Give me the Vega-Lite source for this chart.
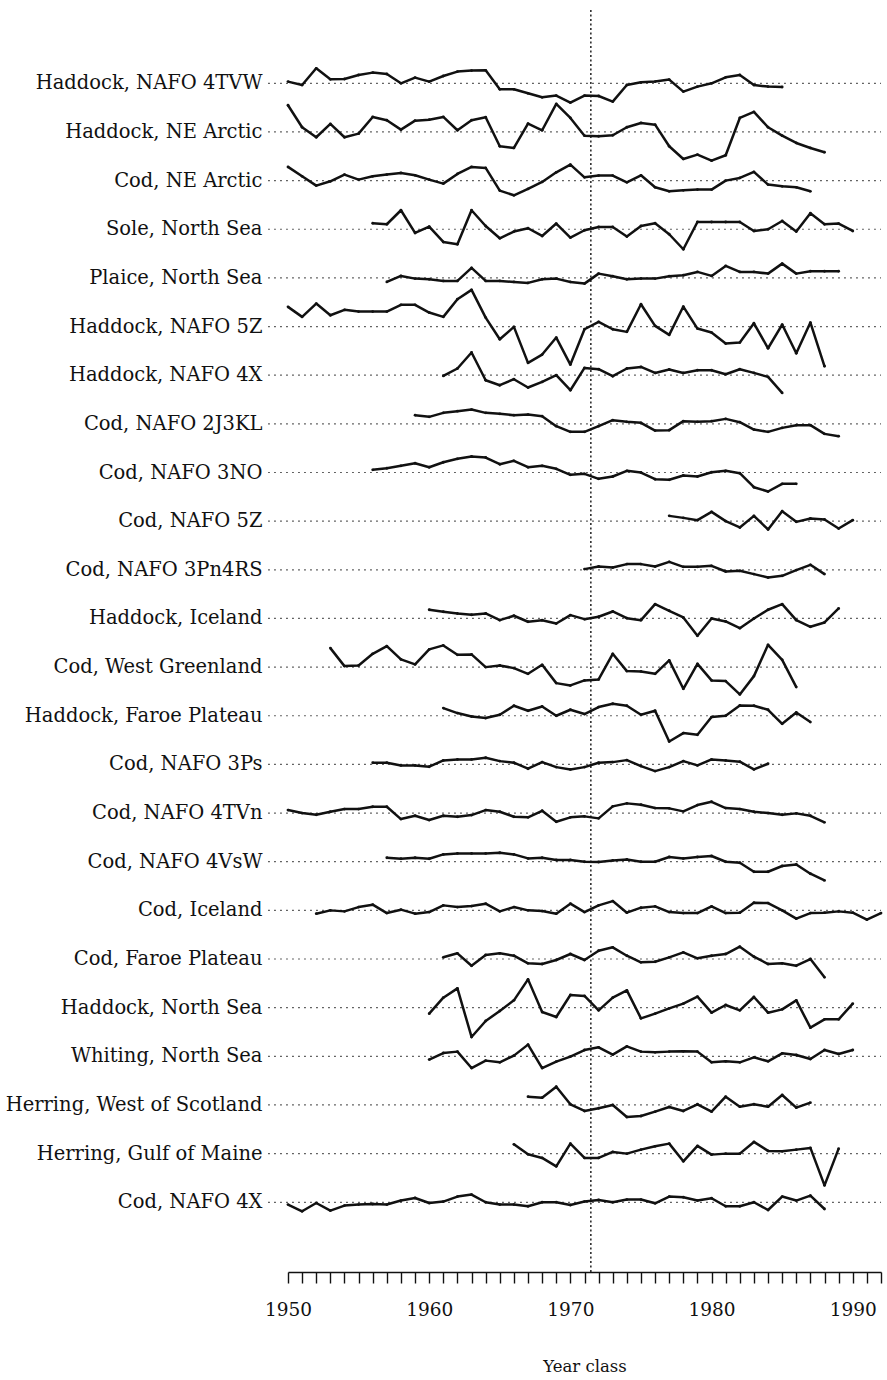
{
"$schema": "https://vega.github.io/schema/vega-lite/v6.json",
"width": 593,
"height": 1262,
"autosize": {"type": "none"},
"padding": {"left": 288, "top": 10, "right": 6, "bottom": 108},
"background": "white",
"config": {"view": {"stroke": null}, "font": "DejaVu Serif"},
"datasets": {
"names": [
{"s":"Haddock, NAFO 4TVW"},{"s":"Haddock, NE Arctic"},{"s":"Cod, NE Arctic"},{"s":"Sole, North Sea"},{"s":"Plaice, North Sea"},{"s":"Haddock, NAFO 5Z"},{"s":"Haddock, NAFO 4X"},{"s":"Cod, NAFO 2J3KL"},{"s":"Cod, NAFO 3NO"},{"s":"Cod, NAFO 5Z"},{"s":"Cod, NAFO 3Pn4RS"},{"s":"Haddock, Iceland"},{"s":"Cod, West Greenland"},{"s":"Haddock, Faroe Plateau"},{"s":"Cod, NAFO 3Ps"},{"s":"Cod, NAFO 4TVn"},{"s":"Cod, NAFO 4VsW"},{"s":"Cod, Iceland"},{"s":"Cod, Faroe Plateau"},{"s":"Haddock, North Sea"},{"s":"Whiting, North Sea"},{"s":"Herring, West of Scotland"},{"s":"Herring, Gulf of Maine"},{"s":"Cod, NAFO 4X"}
],
"series": [
{"s":"Haddock, NAFO 4TVW","y":1950,"v":0.17},{"s":"Haddock, NAFO 4TVW","y":1951,"v":-0.17},{"s":"Haddock, NAFO 4TVW","y":1952,"v":1.5},{"s":"Haddock, NAFO 4TVW","y":1953,"v":0.4},{"s":"Haddock, NAFO 4TVW","y":1954,"v":0.43},{"s":"Haddock, NAFO 4TVW","y":1955,"v":0.83},{"s":"Haddock, NAFO 4TVW","y":1956,"v":1.07},{"s":"Haddock, NAFO 4TVW","y":1957,"v":0.93},{"s":"Haddock, NAFO 4TVW","y":1958,"v":0},{"s":"Haddock, NAFO 4TVW","y":1959,"v":0.57},
{"s":"Haddock, NAFO 4TVW","y":1960,"v":0.17},{"s":"Haddock, NAFO 4TVW","y":1961,"v":0.73},{"s":"Haddock, NAFO 4TVW","y":1962,"v":1.17},{"s":"Haddock, NAFO 4TVW","y":1963,"v":1.27},{"s":"Haddock, NAFO 4TVW","y":1964,"v":1.3},{"s":"Haddock, NAFO 4TVW","y":1965,"v":-0.6},{"s":"Haddock, NAFO 4TVW","y":1966,"v":-0.6},{"s":"Haddock, NAFO 4TVW","y":1967,"v":-1.0},{"s":"Haddock, NAFO 4TVW","y":1968,"v":-1.4},{"s":"Haddock, NAFO 4TVW","y":1969,"v":-1.23},
{"s":"Haddock, NAFO 4TVW","y":1970,"v":-1.93},{"s":"Haddock, NAFO 4TVW","y":1971,"v":-1.23},{"s":"Haddock, NAFO 4TVW","y":1972,"v":-1.27},{"s":"Haddock, NAFO 4TVW","y":1973,"v":-1.83},{"s":"Haddock, NAFO 4TVW","y":1974,"v":-0.17},{"s":"Haddock, NAFO 4TVW","y":1975,"v":0.1},{"s":"Haddock, NAFO 4TVW","y":1976,"v":0.17},{"s":"Haddock, NAFO 4TVW","y":1977,"v":0.37},{"s":"Haddock, NAFO 4TVW","y":1978,"v":-0.83},{"s":"Haddock, NAFO 4TVW","y":1979,"v":-0.33},
{"s":"Haddock, NAFO 4TVW","y":1980,"v":0},{"s":"Haddock, NAFO 4TVW","y":1981,"v":0.6},{"s":"Haddock, NAFO 4TVW","y":1982,"v":0.83},{"s":"Haddock, NAFO 4TVW","y":1983,"v":-0.17},{"s":"Haddock, NAFO 4TVW","y":1984,"v":-0.33},{"s":"Haddock, NAFO 4TVW","y":1985,"v":-0.37},

{"s":"Haddock, NE Arctic","y":1950,"v":2.67},{"s":"Haddock, NE Arctic","y":1951,"v":0.47},{"s":"Haddock, NE Arctic","y":1952,"v":-0.53},{"s":"Haddock, NE Arctic","y":1953,"v":0.8},{"s":"Haddock, NE Arctic","y":1954,"v":-0.53},{"s":"Haddock, NE Arctic","y":1955,"v":-0.17},{"s":"Haddock, NE Arctic","y":1956,"v":1.5},{"s":"Haddock, NE Arctic","y":1957,"v":1.17},{"s":"Haddock, NE Arctic","y":1958,"v":0.23},{"s":"Haddock, NE Arctic","y":1959,"v":1.13},
{"s":"Haddock, NE Arctic","y":1960,"v":1.23},{"s":"Haddock, NE Arctic","y":1961,"v":1.5},{"s":"Haddock, NE Arctic","y":1962,"v":0.17},{"s":"Haddock, NE Arctic","y":1963,"v":1.17},{"s":"Haddock, NE Arctic","y":1964,"v":1.47},{"s":"Haddock, NE Arctic","y":1965,"v":-1.43},{"s":"Haddock, NE Arctic","y":1966,"v":-1.6},{"s":"Haddock, NE Arctic","y":1967,"v":0.83},{"s":"Haddock, NE Arctic","y":1968,"v":0.17},{"s":"Haddock, NE Arctic","y":1969,"v":2.8},
{"s":"Haddock, NE Arctic","y":1970,"v":1.4},{"s":"Haddock, NE Arctic","y":1971,"v":-0.37},{"s":"Haddock, NE Arctic","y":1972,"v":-0.43},{"s":"Haddock, NE Arctic","y":1973,"v":-0.33},{"s":"Haddock, NE Arctic","y":1974,"v":0.47},{"s":"Haddock, NE Arctic","y":1975,"v":0.9},{"s":"Haddock, NE Arctic","y":1976,"v":0.73},{"s":"Haddock, NE Arctic","y":1977,"v":-1.43},{"s":"Haddock, NE Arctic","y":1978,"v":-2.7},{"s":"Haddock, NE Arctic","y":1979,"v":-2.27},
{"s":"Haddock, NE Arctic","y":1980,"v":-2.87},{"s":"Haddock, NE Arctic","y":1981,"v":-2.33},{"s":"Haddock, NE Arctic","y":1982,"v":1.4},{"s":"Haddock, NE Arctic","y":1983,"v":2.0},{"s":"Haddock, NE Arctic","y":1984,"v":0.47},{"s":"Haddock, NE Arctic","y":1985,"v":-0.37},{"s":"Haddock, NE Arctic","y":1986,"v":-1.1},{"s":"Haddock, NE Arctic","y":1987,"v":-1.6},{"s":"Haddock, NE Arctic","y":1988,"v":-2.03},

{"s":"Cod, NE Arctic","y":1950,"v":1.37},{"s":"Cod, NE Arctic","y":1951,"v":0.43},{"s":"Cod, NE Arctic","y":1952,"v":-0.5},{"s":"Cod, NE Arctic","y":1953,"v":-0.07},{"s":"Cod, NE Arctic","y":1954,"v":0.6},{"s":"Cod, NE Arctic","y":1955,"v":0.1},{"s":"Cod, NE Arctic","y":1956,"v":0.43},{"s":"Cod, NE Arctic","y":1957,"v":0.6},{"s":"Cod, NE Arctic","y":1958,"v":0.77},{"s":"Cod, NE Arctic","y":1959,"v":0.53},
{"s":"Cod, NE Arctic","y":1960,"v":0.1},{"s":"Cod, NE Arctic","y":1961,"v":-0.3},{"s":"Cod, NE Arctic","y":1962,"v":0.67},{"s":"Cod, NE Arctic","y":1963,"v":1.37},{"s":"Cod, NE Arctic","y":1964,"v":1.27},{"s":"Cod, NE Arctic","y":1965,"v":-1.0},{"s":"Cod, NE Arctic","y":1966,"v":-1.47},{"s":"Cod, NE Arctic","y":1967,"v":-0.83},{"s":"Cod, NE Arctic","y":1968,"v":-0.13},{"s":"Cod, NE Arctic","y":1969,"v":0.83},
{"s":"Cod, NE Arctic","y":1970,"v":1.6},{"s":"Cod, NE Arctic","y":1971,"v":0.33},{"s":"Cod, NE Arctic","y":1972,"v":0.5},{"s":"Cod, NE Arctic","y":1973,"v":0.5},{"s":"Cod, NE Arctic","y":1974,"v":-0.17},{"s":"Cod, NE Arctic","y":1975,"v":0.53},{"s":"Cod, NE Arctic","y":1976,"v":-0.67},{"s":"Cod, NE Arctic","y":1977,"v":-1.07},{"s":"Cod, NE Arctic","y":1978,"v":-0.97},{"s":"Cod, NE Arctic","y":1979,"v":-0.9},
{"s":"Cod, NE Arctic","y":1980,"v":-0.9},{"s":"Cod, NE Arctic","y":1981,"v":0},{"s":"Cod, NE Arctic","y":1982,"v":0.27},{"s":"Cod, NE Arctic","y":1983,"v":0.87},{"s":"Cod, NE Arctic","y":1984,"v":-0.4},{"s":"Cod, NE Arctic","y":1985,"v":-0.57},{"s":"Cod, NE Arctic","y":1986,"v":-0.67},{"s":"Cod, NE Arctic","y":1987,"v":-1.07},

{"s":"Sole, North Sea","y":1956,"v":0.6},{"s":"Sole, North Sea","y":1957,"v":0.5},{"s":"Sole, North Sea","y":1958,"v":1.9},{"s":"Sole, North Sea","y":1959,"v":-0.37},
{"s":"Sole, North Sea","y":1960,"v":0.27},{"s":"Sole, North Sea","y":1961,"v":-1.27},{"s":"Sole, North Sea","y":1962,"v":-1.5},{"s":"Sole, North Sea","y":1963,"v":1.9},{"s":"Sole, North Sea","y":1964,"v":0.33},{"s":"Sole, North Sea","y":1965,"v":-0.9},{"s":"Sole, North Sea","y":1966,"v":-0.23},{"s":"Sole, North Sea","y":1967,"v":0.1},{"s":"Sole, North Sea","y":1968,"v":-0.67},{"s":"Sole, North Sea","y":1969,"v":0.57},
{"s":"Sole, North Sea","y":1970,"v":-0.83},{"s":"Sole, North Sea","y":1971,"v":-0.1},{"s":"Sole, North Sea","y":1972,"v":0.23},{"s":"Sole, North Sea","y":1973,"v":0.23},{"s":"Sole, North Sea","y":1974,"v":-0.73},{"s":"Sole, North Sea","y":1975,"v":0.33},{"s":"Sole, North Sea","y":1976,"v":0.6},{"s":"Sole, North Sea","y":1977,"v":-0.5},{"s":"Sole, North Sea","y":1978,"v":-2.0},{"s":"Sole, North Sea","y":1979,"v":0.73},
{"s":"Sole, North Sea","y":1980,"v":0.73},{"s":"Sole, North Sea","y":1981,"v":0.73},{"s":"Sole, North Sea","y":1982,"v":0.73},{"s":"Sole, North Sea","y":1983,"v":-0.17},{"s":"Sole, North Sea","y":1984,"v":0},{"s":"Sole, North Sea","y":1985,"v":0.83},{"s":"Sole, North Sea","y":1986,"v":-0.23},{"s":"Sole, North Sea","y":1987,"v":1.6},{"s":"Sole, North Sea","y":1988,"v":0.5},{"s":"Sole, North Sea","y":1989,"v":0.57},{"s":"Sole, North Sea","y":1990,"v":-0.17},

{"s":"Plaice, North Sea","y":1957,"v":-0.4},{"s":"Plaice, North Sea","y":1958,"v":0.2},{"s":"Plaice, North Sea","y":1959,"v":-0.07},
{"s":"Plaice, North Sea","y":1960,"v":-0.13},{"s":"Plaice, North Sea","y":1961,"v":-0.3},{"s":"Plaice, North Sea","y":1962,"v":-0.3},{"s":"Plaice, North Sea","y":1963,"v":1.0},{"s":"Plaice, North Sea","y":1964,"v":-0.3},{"s":"Plaice, North Sea","y":1965,"v":-0.3},{"s":"Plaice, North Sea","y":1966,"v":-0.4},{"s":"Plaice, North Sea","y":1967,"v":-0.5},{"s":"Plaice, North Sea","y":1968,"v":-0.13},{"s":"Plaice, North Sea","y":1969,"v":-0.07},
{"s":"Plaice, North Sea","y":1970,"v":-0.4},{"s":"Plaice, North Sea","y":1971,"v":-0.57},{"s":"Plaice, North Sea","y":1972,"v":0.43},{"s":"Plaice, North Sea","y":1973,"v":0.17},{"s":"Plaice, North Sea","y":1974,"v":-0.13},{"s":"Plaice, North Sea","y":1975,"v":-0.07},{"s":"Plaice, North Sea","y":1976,"v":-0.07},{"s":"Plaice, North Sea","y":1977,"v":0.17},{"s":"Plaice, North Sea","y":1978,"v":0.27},{"s":"Plaice, North Sea","y":1979,"v":0.6},
{"s":"Plaice, North Sea","y":1980,"v":0.2},{"s":"Plaice, North Sea","y":1981,"v":1.2},{"s":"Plaice, North Sea","y":1982,"v":0.6},{"s":"Plaice, North Sea","y":1983,"v":0.6},{"s":"Plaice, North Sea","y":1984,"v":0.43},{"s":"Plaice, North Sea","y":1985,"v":1.43},{"s":"Plaice, North Sea","y":1986,"v":0.43},{"s":"Plaice, North Sea","y":1987,"v":0.67},{"s":"Plaice, North Sea","y":1988,"v":0.67},{"s":"Plaice, North Sea","y":1989,"v":0.67},

{"s":"Haddock, NAFO 5Z","y":1950,"v":1.97},{"s":"Haddock, NAFO 5Z","y":1951,"v":0.97},{"s":"Haddock, NAFO 5Z","y":1952,"v":2.3},{"s":"Haddock, NAFO 5Z","y":1953,"v":1.13},{"s":"Haddock, NAFO 5Z","y":1954,"v":1.67},{"s":"Haddock, NAFO 5Z","y":1955,"v":1.5},{"s":"Haddock, NAFO 5Z","y":1956,"v":1.5},{"s":"Haddock, NAFO 5Z","y":1957,"v":1.5},{"s":"Haddock, NAFO 5Z","y":1958,"v":2.17},{"s":"Haddock, NAFO 5Z","y":1959,"v":2.17},
{"s":"Haddock, NAFO 5Z","y":1960,"v":1.4},{"s":"Haddock, NAFO 5Z","y":1961,"v":0.97},{"s":"Haddock, NAFO 5Z","y":1962,"v":2.73},{"s":"Haddock, NAFO 5Z","y":1963,"v":3.67},{"s":"Haddock, NAFO 5Z","y":1964,"v":0.9},{"s":"Haddock, NAFO 5Z","y":1965,"v":-1.27},{"s":"Haddock, NAFO 5Z","y":1966,"v":-0.03},{"s":"Haddock, NAFO 5Z","y":1967,"v":-3.63},{"s":"Haddock, NAFO 5Z","y":1968,"v":-2.8},{"s":"Haddock, NAFO 5Z","y":1969,"v":-1.1},
{"s":"Haddock, NAFO 5Z","y":1970,"v":-3.8},{"s":"Haddock, NAFO 5Z","y":1971,"v":-0.27},{"s":"Haddock, NAFO 5Z","y":1972,"v":0.47},{"s":"Haddock, NAFO 5Z","y":1973,"v":-0.27},{"s":"Haddock, NAFO 5Z","y":1974,"v":-0.53},{"s":"Haddock, NAFO 5Z","y":1975,"v":2.23},{"s":"Haddock, NAFO 5Z","y":1976,"v":0.07},{"s":"Haddock, NAFO 5Z","y":1977,"v":-0.83},{"s":"Haddock, NAFO 5Z","y":1978,"v":2.0},{"s":"Haddock, NAFO 5Z","y":1979,"v":-0.2},
{"s":"Haddock, NAFO 5Z","y":1980,"v":-0.6},{"s":"Haddock, NAFO 5Z","y":1981,"v":-1.7},{"s":"Haddock, NAFO 5Z","y":1982,"v":-1.6},{"s":"Haddock, NAFO 5Z","y":1983,"v":0.33},{"s":"Haddock, NAFO 5Z","y":1984,"v":-2.17},{"s":"Haddock, NAFO 5Z","y":1985,"v":0.2},{"s":"Haddock, NAFO 5Z","y":1986,"v":-2.67},{"s":"Haddock, NAFO 5Z","y":1987,"v":0.4},{"s":"Haddock, NAFO 5Z","y":1988,"v":-3.97},

{"s":"Haddock, NAFO 4X","y":1961,"v":-0.07},{"s":"Haddock, NAFO 4X","y":1962,"v":0.67},{"s":"Haddock, NAFO 4X","y":1963,"v":2.27},{"s":"Haddock, NAFO 4X","y":1964,"v":-0.5},{"s":"Haddock, NAFO 4X","y":1965,"v":-1.0},{"s":"Haddock, NAFO 4X","y":1966,"v":-0.4},{"s":"Haddock, NAFO 4X","y":1967,"v":-1.23},{"s":"Haddock, NAFO 4X","y":1968,"v":-0.67},{"s":"Haddock, NAFO 4X","y":1969,"v":0},
{"s":"Haddock, NAFO 4X","y":1970,"v":-1.5},{"s":"Haddock, NAFO 4X","y":1971,"v":0.73},{"s":"Haddock, NAFO 4X","y":1972,"v":0.6},{"s":"Haddock, NAFO 4X","y":1973,"v":-0.1},{"s":"Haddock, NAFO 4X","y":1974,"v":0.67},{"s":"Haddock, NAFO 4X","y":1975,"v":0.83},{"s":"Haddock, NAFO 4X","y":1976,"v":0.23},{"s":"Haddock, NAFO 4X","y":1977,"v":0.57},{"s":"Haddock, NAFO 4X","y":1978,"v":0.23},{"s":"Haddock, NAFO 4X","y":1979,"v":0.5},
{"s":"Haddock, NAFO 4X","y":1980,"v":0.5},{"s":"Haddock, NAFO 4X","y":1981,"v":0.1},{"s":"Haddock, NAFO 4X","y":1982,"v":0.6},{"s":"Haddock, NAFO 4X","y":1983,"v":0.23},{"s":"Haddock, NAFO 4X","y":1984,"v":-0.17},{"s":"Haddock, NAFO 4X","y":1985,"v":-1.77},

{"s":"Cod, NAFO 2J3KL","y":1959,"v":0.87},
{"s":"Cod, NAFO 2J3KL","y":1960,"v":0.7},{"s":"Cod, NAFO 2J3KL","y":1961,"v":1.1},{"s":"Cod, NAFO 2J3KL","y":1962,"v":1.27},{"s":"Cod, NAFO 2J3KL","y":1963,"v":1.43},{"s":"Cod, NAFO 2J3KL","y":1964,"v":1.1},{"s":"Cod, NAFO 2J3KL","y":1965,"v":1.0},{"s":"Cod, NAFO 2J3KL","y":1966,"v":0.87},{"s":"Cod, NAFO 2J3KL","y":1967,"v":0.93},{"s":"Cod, NAFO 2J3KL","y":1968,"v":0.77},{"s":"Cod, NAFO 2J3KL","y":1969,"v":-0.23},
{"s":"Cod, NAFO 2J3KL","y":1970,"v":-0.8},{"s":"Cod, NAFO 2J3KL","y":1971,"v":-0.8},{"s":"Cod, NAFO 2J3KL","y":1972,"v":-0.23},{"s":"Cod, NAFO 2J3KL","y":1973,"v":0.37},{"s":"Cod, NAFO 2J3KL","y":1974,"v":0.2},{"s":"Cod, NAFO 2J3KL","y":1975,"v":0.1},{"s":"Cod, NAFO 2J3KL","y":1976,"v":-0.67},{"s":"Cod, NAFO 2J3KL","y":1977,"v":-0.63},{"s":"Cod, NAFO 2J3KL","y":1978,"v":0.27},{"s":"Cod, NAFO 2J3KL","y":1979,"v":0.2},
{"s":"Cod, NAFO 2J3KL","y":1980,"v":0.27},{"s":"Cod, NAFO 2J3KL","y":1981,"v":0.5},{"s":"Cod, NAFO 2J3KL","y":1982,"v":0.17},{"s":"Cod, NAFO 2J3KL","y":1983,"v":-0.57},{"s":"Cod, NAFO 2J3KL","y":1984,"v":-0.8},{"s":"Cod, NAFO 2J3KL","y":1985,"v":-0.4},{"s":"Cod, NAFO 2J3KL","y":1986,"v":-0.13},{"s":"Cod, NAFO 2J3KL","y":1987,"v":-0.13},{"s":"Cod, NAFO 2J3KL","y":1988,"v":-1.0},{"s":"Cod, NAFO 2J3KL","y":1989,"v":-1.23},

{"s":"Cod, NAFO 3NO","y":1956,"v":0.27},{"s":"Cod, NAFO 3NO","y":1957,"v":0.43},{"s":"Cod, NAFO 3NO","y":1958,"v":0.67},{"s":"Cod, NAFO 3NO","y":1959,"v":0.93},
{"s":"Cod, NAFO 3NO","y":1960,"v":0.53},{"s":"Cod, NAFO 3NO","y":1961,"v":1.03},{"s":"Cod, NAFO 3NO","y":1962,"v":1.37},{"s":"Cod, NAFO 3NO","y":1963,"v":1.6},{"s":"Cod, NAFO 3NO","y":1964,"v":1.5},{"s":"Cod, NAFO 3NO","y":1965,"v":0.83},{"s":"Cod, NAFO 3NO","y":1966,"v":1.17},{"s":"Cod, NAFO 3NO","y":1967,"v":0.53},{"s":"Cod, NAFO 3NO","y":1968,"v":0.67},{"s":"Cod, NAFO 3NO","y":1969,"v":0.37},
{"s":"Cod, NAFO 3NO","y":1970,"v":-0.23},{"s":"Cod, NAFO 3NO","y":1971,"v":-0.13},{"s":"Cod, NAFO 3NO","y":1972,"v":-0.63},{"s":"Cod, NAFO 3NO","y":1973,"v":-0.4},{"s":"Cod, NAFO 3NO","y":1974,"v":0.17},{"s":"Cod, NAFO 3NO","y":1975,"v":0},{"s":"Cod, NAFO 3NO","y":1976,"v":-0.67},{"s":"Cod, NAFO 3NO","y":1977,"v":-0.73},{"s":"Cod, NAFO 3NO","y":1978,"v":-0.3},{"s":"Cod, NAFO 3NO","y":1979,"v":-0.4},
{"s":"Cod, NAFO 3NO","y":1980,"v":0.03},{"s":"Cod, NAFO 3NO","y":1981,"v":0.17},{"s":"Cod, NAFO 3NO","y":1982,"v":-0.07},{"s":"Cod, NAFO 3NO","y":1983,"v":-1.47},{"s":"Cod, NAFO 3NO","y":1984,"v":-1.9},{"s":"Cod, NAFO 3NO","y":1985,"v":-1.13},{"s":"Cod, NAFO 3NO","y":1986,"v":-1.13},

{"s":"Cod, NAFO 5Z","y":1977,"v":0.53},{"s":"Cod, NAFO 5Z","y":1978,"v":0.33},{"s":"Cod, NAFO 5Z","y":1979,"v":0.1},{"s":"Cod, NAFO 5Z","y":1980,"v":0.93},{"s":"Cod, NAFO 5Z","y":1981,"v":0},{"s":"Cod, NAFO 5Z","y":1982,"v":-0.63},{"s":"Cod, NAFO 5Z","y":1983,"v":0.53},{"s":"Cod, NAFO 5Z","y":1984,"v":-0.83},{"s":"Cod, NAFO 5Z","y":1985,"v":1.0},{"s":"Cod, NAFO 5Z","y":1986,"v":-0.07},{"s":"Cod, NAFO 5Z","y":1987,"v":0.27},{"s":"Cod, NAFO 5Z","y":1988,"v":0.17},{"s":"Cod, NAFO 5Z","y":1989,"v":-0.73},{"s":"Cod, NAFO 5Z","y":1990,"v":0.1},

{"s":"Cod, NAFO 3Pn4RS","y":1971,"v":0.07},{"s":"Cod, NAFO 3Pn4RS","y":1972,"v":0.33},{"s":"Cod, NAFO 3Pn4RS","y":1973,"v":0.23},{"s":"Cod, NAFO 3Pn4RS","y":1974,"v":0.57},{"s":"Cod, NAFO 3Pn4RS","y":1975,"v":0.57},{"s":"Cod, NAFO 3Pn4RS","y":1976,"v":0.33},{"s":"Cod, NAFO 3Pn4RS","y":1977,"v":0.8},{"s":"Cod, NAFO 3Pn4RS","y":1978,"v":0.3},{"s":"Cod, NAFO 3Pn4RS","y":1979,"v":0.3},{"s":"Cod, NAFO 3Pn4RS","y":1980,"v":0.4},{"s":"Cod, NAFO 3Pn4RS","y":1981,"v":-0.17},{"s":"Cod, NAFO 3Pn4RS","y":1982,"v":-0.1},{"s":"Cod, NAFO 3Pn4RS","y":1983,"v":-0.43},{"s":"Cod, NAFO 3Pn4RS","y":1984,"v":-0.77},{"s":"Cod, NAFO 3Pn4RS","y":1985,"v":-0.6},{"s":"Cod, NAFO 3Pn4RS","y":1986,"v":-0.03},{"s":"Cod, NAFO 3Pn4RS","y":1987,"v":0.5},{"s":"Cod, NAFO 3Pn4RS","y":1988,"v":-0.43},

{"s":"Haddock, Iceland","y":1960,"v":0.87},{"s":"Haddock, Iceland","y":1961,"v":0.67},{"s":"Haddock, Iceland","y":1962,"v":0.5},{"s":"Haddock, Iceland","y":1963,"v":0.37},{"s":"Haddock, Iceland","y":1964,"v":0.5},{"s":"Haddock, Iceland","y":1965,"v":-0.17},{"s":"Haddock, Iceland","y":1966,"v":0.27},{"s":"Haddock, Iceland","y":1967,"v":-0.33},{"s":"Haddock, Iceland","y":1968,"v":-0.17},{"s":"Haddock, Iceland","y":1969,"v":-0.5},
{"s":"Haddock, Iceland","y":1970,"v":0.33},{"s":"Haddock, Iceland","y":1971,"v":-0.07},{"s":"Haddock, Iceland","y":1972,"v":0.17},{"s":"Haddock, Iceland","y":1973,"v":0.7},{"s":"Haddock, Iceland","y":1974,"v":0.03},{"s":"Haddock, Iceland","y":1975,"v":-0.17},{"s":"Haddock, Iceland","y":1976,"v":1.43},{"s":"Haddock, Iceland","y":1977,"v":0.77},{"s":"Haddock, Iceland","y":1978,"v":0.1},{"s":"Haddock, Iceland","y":1979,"v":-1.73},
{"s":"Haddock, Iceland","y":1980,"v":0},{"s":"Haddock, Iceland","y":1981,"v":-0.3},{"s":"Haddock, Iceland","y":1982,"v":-0.97},{"s":"Haddock, Iceland","y":1983,"v":0},{"s":"Haddock, Iceland","y":1984,"v":0.87},{"s":"Haddock, Iceland","y":1985,"v":1.43},{"s":"Haddock, Iceland","y":1986,"v":-0.17},{"s":"Haddock, Iceland","y":1987,"v":-0.83},{"s":"Haddock, Iceland","y":1988,"v":-0.4},{"s":"Haddock, Iceland","y":1989,"v":1.0},

{"s":"Cod, West Greenland","y":1953,"v":1.9},{"s":"Cod, West Greenland","y":1954,"v":0.1},{"s":"Cod, West Greenland","y":1955,"v":0.17},{"s":"Cod, West Greenland","y":1956,"v":1.33},{"s":"Cod, West Greenland","y":1957,"v":2.1},{"s":"Cod, West Greenland","y":1958,"v":0.77},{"s":"Cod, West Greenland","y":1959,"v":0.27},
{"s":"Cod, West Greenland","y":1960,"v":1.77},{"s":"Cod, West Greenland","y":1961,"v":2.17},{"s":"Cod, West Greenland","y":1962,"v":1.23},{"s":"Cod, West Greenland","y":1963,"v":1.27},{"s":"Cod, West Greenland","y":1964,"v":0},{"s":"Cod, West Greenland","y":1965,"v":0.17},{"s":"Cod, West Greenland","y":1966,"v":-0.1},{"s":"Cod, West Greenland","y":1967,"v":-0.67},{"s":"Cod, West Greenland","y":1968,"v":0.23},{"s":"Cod, West Greenland","y":1969,"v":-1.6},
{"s":"Cod, West Greenland","y":1970,"v":-1.83},{"s":"Cod, West Greenland","y":1971,"v":-1.33},{"s":"Cod, West Greenland","y":1972,"v":-1.23},{"s":"Cod, West Greenland","y":1973,"v":1.33},{"s":"Cod, West Greenland","y":1974,"v":-0.4},{"s":"Cod, West Greenland","y":1975,"v":-0.43},{"s":"Cod, West Greenland","y":1976,"v":-0.67},{"s":"Cod, West Greenland","y":1977,"v":0.67},{"s":"Cod, West Greenland","y":1978,"v":-2.17},{"s":"Cod, West Greenland","y":1979,"v":0.33},
{"s":"Cod, West Greenland","y":1980,"v":-1.33},{"s":"Cod, West Greenland","y":1981,"v":-1.4},{"s":"Cod, West Greenland","y":1982,"v":-2.73},{"s":"Cod, West Greenland","y":1983,"v":-0.9},{"s":"Cod, West Greenland","y":1984,"v":2.23},{"s":"Cod, West Greenland","y":1985,"v":0.73},{"s":"Cod, West Greenland","y":1986,"v":-2.0},

{"s":"Haddock, Faroe Plateau","y":1961,"v":0.77},{"s":"Haddock, Faroe Plateau","y":1962,"v":0.27},{"s":"Haddock, Faroe Plateau","y":1963,"v":-0.07},{"s":"Haddock, Faroe Plateau","y":1964,"v":-0.23},{"s":"Haddock, Faroe Plateau","y":1965,"v":0.1},{"s":"Haddock, Faroe Plateau","y":1966,"v":1.0},{"s":"Haddock, Faroe Plateau","y":1967,"v":0.5},{"s":"Haddock, Faroe Plateau","y":1968,"v":0.93},{"s":"Haddock, Faroe Plateau","y":1969,"v":0},
{"s":"Haddock, Faroe Plateau","y":1970,"v":0.6},{"s":"Haddock, Faroe Plateau","y":1971,"v":0.17},{"s":"Haddock, Faroe Plateau","y":1972,"v":0.87},{"s":"Haddock, Faroe Plateau","y":1973,"v":1.2},{"s":"Haddock, Faroe Plateau","y":1974,"v":1.0},{"s":"Haddock, Faroe Plateau","y":1975,"v":0.1},{"s":"Haddock, Faroe Plateau","y":1976,"v":0.5},{"s":"Haddock, Faroe Plateau","y":1977,"v":-2.57},{"s":"Haddock, Faroe Plateau","y":1978,"v":-1.73},{"s":"Haddock, Faroe Plateau","y":1979,"v":-1.9},
{"s":"Haddock, Faroe Plateau","y":1980,"v":-0.13},{"s":"Haddock, Faroe Plateau","y":1981,"v":0},{"s":"Haddock, Faroe Plateau","y":1982,"v":1.03},{"s":"Haddock, Faroe Plateau","y":1983,"v":1.0},{"s":"Haddock, Faroe Plateau","y":1984,"v":0.6},{"s":"Haddock, Faroe Plateau","y":1985,"v":-0.8},{"s":"Haddock, Faroe Plateau","y":1986,"v":0.33},{"s":"Haddock, Faroe Plateau","y":1987,"v":-0.63},

{"s":"Cod, NAFO 3Ps","y":1956,"v":0.17},{"s":"Cod, NAFO 3Ps","y":1957,"v":0.17},{"s":"Cod, NAFO 3Ps","y":1958,"v":-0.1},{"s":"Cod, NAFO 3Ps","y":1959,"v":-0.1},
{"s":"Cod, NAFO 3Ps","y":1960,"v":-0.23},{"s":"Cod, NAFO 3Ps","y":1961,"v":0.4},{"s":"Cod, NAFO 3Ps","y":1962,"v":0.5},{"s":"Cod, NAFO 3Ps","y":1963,"v":0.5},{"s":"Cod, NAFO 3Ps","y":1964,"v":0.67},{"s":"Cod, NAFO 3Ps","y":1965,"v":0.33},{"s":"Cod, NAFO 3Ps","y":1966,"v":0.17},{"s":"Cod, NAFO 3Ps","y":1967,"v":-0.43},{"s":"Cod, NAFO 3Ps","y":1968,"v":0.23},{"s":"Cod, NAFO 3Ps","y":1969,"v":-0.27},
{"s":"Cod, NAFO 3Ps","y":1970,"v":-0.5},{"s":"Cod, NAFO 3Ps","y":1971,"v":-0.27},{"s":"Cod, NAFO 3Ps","y":1972,"v":0.17},{"s":"Cod, NAFO 3Ps","y":1973,"v":0.23},{"s":"Cod, NAFO 3Ps","y":1974,"v":0.43},{"s":"Cod, NAFO 3Ps","y":1975,"v":-0.17},{"s":"Cod, NAFO 3Ps","y":1976,"v":-0.67},{"s":"Cod, NAFO 3Ps","y":1977,"v":-0.27},{"s":"Cod, NAFO 3Ps","y":1978,"v":0.33},{"s":"Cod, NAFO 3Ps","y":1979,"v":-0.1},
{"s":"Cod, NAFO 3Ps","y":1980,"v":0.5},{"s":"Cod, NAFO 3Ps","y":1981,"v":0.4},{"s":"Cod, NAFO 3Ps","y":1982,"v":0.27},{"s":"Cod, NAFO 3Ps","y":1983,"v":-0.5},{"s":"Cod, NAFO 3Ps","y":1984,"v":0.07},

{"s":"Cod, NAFO 4TVn","y":1950,"v":0.3},{"s":"Cod, NAFO 4TVn","y":1951,"v":0},{"s":"Cod, NAFO 4TVn","y":1952,"v":-0.17},{"s":"Cod, NAFO 4TVn","y":1953,"v":0.13},{"s":"Cod, NAFO 4TVn","y":1954,"v":0.4},{"s":"Cod, NAFO 4TVn","y":1955,"v":0.4},{"s":"Cod, NAFO 4TVn","y":1956,"v":0.63},{"s":"Cod, NAFO 4TVn","y":1957,"v":0.63},{"s":"Cod, NAFO 4TVn","y":1958,"v":-0.6},{"s":"Cod, NAFO 4TVn","y":1959,"v":-0.27},
{"s":"Cod, NAFO 4TVn","y":1960,"v":-0.7},{"s":"Cod, NAFO 4TVn","y":1961,"v":-0.27},{"s":"Cod, NAFO 4TVn","y":1962,"v":-0.37},{"s":"Cod, NAFO 4TVn","y":1963,"v":-0.2},{"s":"Cod, NAFO 4TVn","y":1964,"v":0.3},{"s":"Cod, NAFO 4TVn","y":1965,"v":0.13},{"s":"Cod, NAFO 4TVn","y":1966,"v":-0.37},{"s":"Cod, NAFO 4TVn","y":1967,"v":-0.43},{"s":"Cod, NAFO 4TVn","y":1968,"v":0.23},{"s":"Cod, NAFO 4TVn","y":1969,"v":-0.87},
{"s":"Cod, NAFO 4TVn","y":1970,"v":-0.43},{"s":"Cod, NAFO 4TVn","y":1971,"v":-0.33},{"s":"Cod, NAFO 4TVn","y":1972,"v":-0.53},{"s":"Cod, NAFO 4TVn","y":1973,"v":0.67},{"s":"Cod, NAFO 4TVn","y":1974,"v":0.97},{"s":"Cod, NAFO 4TVn","y":1975,"v":0.83},{"s":"Cod, NAFO 4TVn","y":1976,"v":0.5},{"s":"Cod, NAFO 4TVn","y":1977,"v":0.47},{"s":"Cod, NAFO 4TVn","y":1978,"v":0.17},{"s":"Cod, NAFO 4TVn","y":1979,"v":0.8},
{"s":"Cod, NAFO 4TVn","y":1980,"v":1.13},{"s":"Cod, NAFO 4TVn","y":1981,"v":0.5},{"s":"Cod, NAFO 4TVn","y":1982,"v":0.4},{"s":"Cod, NAFO 4TVn","y":1983,"v":0.13},{"s":"Cod, NAFO 4TVn","y":1984,"v":0},{"s":"Cod, NAFO 4TVn","y":1985,"v":-0.17},{"s":"Cod, NAFO 4TVn","y":1986,"v":-0.03},{"s":"Cod, NAFO 4TVn","y":1987,"v":-0.27},{"s":"Cod, NAFO 4TVn","y":1988,"v":-0.93},

{"s":"Cod, NAFO 4VsW","y":1957,"v":0.4},{"s":"Cod, NAFO 4VsW","y":1958,"v":0.3},{"s":"Cod, NAFO 4VsW","y":1959,"v":0.4},
{"s":"Cod, NAFO 4VsW","y":1960,"v":0.3},{"s":"Cod, NAFO 4VsW","y":1961,"v":0.73},{"s":"Cod, NAFO 4VsW","y":1962,"v":0.83},{"s":"Cod, NAFO 4VsW","y":1963,"v":0.83},{"s":"Cod, NAFO 4VsW","y":1964,"v":0.83},{"s":"Cod, NAFO 4VsW","y":1965,"v":0.9},{"s":"Cod, NAFO 4VsW","y":1966,"v":0.73},{"s":"Cod, NAFO 4VsW","y":1967,"v":0.33},{"s":"Cod, NAFO 4VsW","y":1968,"v":0.4},{"s":"Cod, NAFO 4VsW","y":1969,"v":0.17},
{"s":"Cod, NAFO 4VsW","y":1970,"v":0.17},{"s":"Cod, NAFO 4VsW","y":1971,"v":0},{"s":"Cod, NAFO 4VsW","y":1972,"v":-0.03},{"s":"Cod, NAFO 4VsW","y":1973,"v":0.13},{"s":"Cod, NAFO 4VsW","y":1974,"v":0.23},{"s":"Cod, NAFO 4VsW","y":1975,"v":0},{"s":"Cod, NAFO 4VsW","y":1976,"v":0},{"s":"Cod, NAFO 4VsW","y":1977,"v":0.47},{"s":"Cod, NAFO 4VsW","y":1978,"v":0.33},{"s":"Cod, NAFO 4VsW","y":1979,"v":0.47},
{"s":"Cod, NAFO 4VsW","y":1980,"v":0.57},{"s":"Cod, NAFO 4VsW","y":1981,"v":0},{"s":"Cod, NAFO 4VsW","y":1982,"v":-0.1},{"s":"Cod, NAFO 4VsW","y":1983,"v":-1.0},{"s":"Cod, NAFO 4VsW","y":1984,"v":-1.0},{"s":"Cod, NAFO 4VsW","y":1985,"v":-0.43},{"s":"Cod, NAFO 4VsW","y":1986,"v":-0.27},{"s":"Cod, NAFO 4VsW","y":1987,"v":-1.2},{"s":"Cod, NAFO 4VsW","y":1988,"v":-1.87},

{"s":"Cod, Iceland","y":1952,"v":-0.33},{"s":"Cod, Iceland","y":1953,"v":0},{"s":"Cod, Iceland","y":1954,"v":-0.1},{"s":"Cod, Iceland","y":1955,"v":0.33},{"s":"Cod, Iceland","y":1956,"v":0.57},{"s":"Cod, Iceland","y":1957,"v":-0.27},{"s":"Cod, Iceland","y":1958,"v":0.07},{"s":"Cod, Iceland","y":1959,"v":-0.33},
{"s":"Cod, Iceland","y":1960,"v":-0.17},{"s":"Cod, Iceland","y":1961,"v":0.5},{"s":"Cod, Iceland","y":1962,"v":0.33},{"s":"Cod, Iceland","y":1963,"v":0.43},{"s":"Cod, Iceland","y":1964,"v":0.67},{"s":"Cod, Iceland","y":1965,"v":-0.1},{"s":"Cod, Iceland","y":1966,"v":0.33},{"s":"Cod, Iceland","y":1967,"v":0},{"s":"Cod, Iceland","y":1968,"v":-0.07},{"s":"Cod, Iceland","y":1969,"v":-0.33},
{"s":"Cod, Iceland","y":1970,"v":0.67},{"s":"Cod, Iceland","y":1971,"v":-0.17},{"s":"Cod, Iceland","y":1972,"v":0.5},{"s":"Cod, Iceland","y":1973,"v":0.93},{"s":"Cod, Iceland","y":1974,"v":-0.23},{"s":"Cod, Iceland","y":1975,"v":0.27},{"s":"Cod, Iceland","y":1976,"v":0.4},{"s":"Cod, Iceland","y":1977,"v":-0.17},{"s":"Cod, Iceland","y":1978,"v":-0.27},{"s":"Cod, Iceland","y":1979,"v":-0.27},
{"s":"Cod, Iceland","y":1980,"v":0.4},{"s":"Cod, Iceland","y":1981,"v":-0.27},{"s":"Cod, Iceland","y":1982,"v":-0.23},{"s":"Cod, Iceland","y":1983,"v":0.77},{"s":"Cod, Iceland","y":1984,"v":0.73},{"s":"Cod, Iceland","y":1985,"v":0},{"s":"Cod, Iceland","y":1986,"v":-0.83},{"s":"Cod, Iceland","y":1987,"v":-0.27},{"s":"Cod, Iceland","y":1988,"v":-0.23},{"s":"Cod, Iceland","y":1989,"v":-0.1},{"s":"Cod, Iceland","y":1990,"v":-0.23},{"s":"Cod, Iceland","y":1991,"v":-0.93},{"s":"Cod, Iceland","y":1992,"v":-0.27},

{"s":"Cod, Faroe Plateau","y":1961,"v":0.17},{"s":"Cod, Faroe Plateau","y":1962,"v":0.57},{"s":"Cod, Faroe Plateau","y":1963,"v":-0.67},{"s":"Cod, Faroe Plateau","y":1964,"v":0.4},{"s":"Cod, Faroe Plateau","y":1965,"v":0.57},{"s":"Cod, Faroe Plateau","y":1966,"v":0.33},{"s":"Cod, Faroe Plateau","y":1967,"v":-0.43},{"s":"Cod, Faroe Plateau","y":1968,"v":-0.5},{"s":"Cod, Faroe Plateau","y":1969,"v":-0.1},
{"s":"Cod, Faroe Plateau","y":1970,"v":0.5},{"s":"Cod, Faroe Plateau","y":1971,"v":-0.1},{"s":"Cod, Faroe Plateau","y":1972,"v":0.83},{"s":"Cod, Faroe Plateau","y":1973,"v":1.17},{"s":"Cod, Faroe Plateau","y":1974,"v":0.33},{"s":"Cod, Faroe Plateau","y":1975,"v":-0.33},{"s":"Cod, Faroe Plateau","y":1976,"v":-0.27},{"s":"Cod, Faroe Plateau","y":1977,"v":0.17},{"s":"Cod, Faroe Plateau","y":1978,"v":0.67},{"s":"Cod, Faroe Plateau","y":1979,"v":0.07},
{"s":"Cod, Faroe Plateau","y":1980,"v":0.33},{"s":"Cod, Faroe Plateau","y":1981,"v":0.5},{"s":"Cod, Faroe Plateau","y":1982,"v":1.23},{"s":"Cod, Faroe Plateau","y":1983,"v":0.23},{"s":"Cod, Faroe Plateau","y":1984,"v":-0.5},{"s":"Cod, Faroe Plateau","y":1985,"v":-0.43},{"s":"Cod, Faroe Plateau","y":1986,"v":-0.67},{"s":"Cod, Faroe Plateau","y":1987,"v":0},{"s":"Cod, Faroe Plateau","y":1988,"v":-1.83},

{"s":"Haddock, North Sea","y":1960,"v":-0.6},{"s":"Haddock, North Sea","y":1961,"v":1.0},{"s":"Haddock, North Sea","y":1962,"v":1.93},{"s":"Haddock, North Sea","y":1963,"v":-2.93},{"s":"Haddock, North Sea","y":1964,"v":-1.33},{"s":"Haddock, North Sea","y":1965,"v":-0.33},{"s":"Haddock, North Sea","y":1966,"v":0.73},{"s":"Haddock, North Sea","y":1967,"v":2.83},{"s":"Haddock, North Sea","y":1968,"v":-0.43},{"s":"Haddock, North Sea","y":1969,"v":-0.93},
{"s":"Haddock, North Sea","y":1970,"v":1.27},{"s":"Haddock, North Sea","y":1971,"v":1.17},{"s":"Haddock, North Sea","y":1972,"v":-0.27},{"s":"Haddock, North Sea","y":1973,"v":1.0},{"s":"Haddock, North Sea","y":1974,"v":1.73},{"s":"Haddock, North Sea","y":1975,"v":-1.07},{"s":"Haddock, North Sea","y":1976,"v":-0.6},{"s":"Haddock, North Sea","y":1977,"v":-0.07},{"s":"Haddock, North Sea","y":1978,"v":0.4},{"s":"Haddock, North Sea","y":1979,"v":1.1},
{"s":"Haddock, North Sea","y":1980,"v":-0.5},{"s":"Haddock, North Sea","y":1981,"v":0.27},{"s":"Haddock, North Sea","y":1982,"v":-0.27},{"s":"Haddock, North Sea","y":1983,"v":1.07},{"s":"Haddock, North Sea","y":1984,"v":-0.5},{"s":"Haddock, North Sea","y":1985,"v":-0.17},{"s":"Haddock, North Sea","y":1986,"v":0.73},{"s":"Haddock, North Sea","y":1987,"v":-2.0},{"s":"Haddock, North Sea","y":1988,"v":-1.17},{"s":"Haddock, North Sea","y":1989,"v":-1.17},{"s":"Haddock, North Sea","y":1990,"v":0.4},

{"s":"Whiting, North Sea","y":1960,"v":-0.33},{"s":"Whiting, North Sea","y":1961,"v":0.33},{"s":"Whiting, North Sea","y":1962,"v":0.47},{"s":"Whiting, North Sea","y":1963,"v":-1.17},{"s":"Whiting, North Sea","y":1964,"v":-0.43},{"s":"Whiting, North Sea","y":1965,"v":-0.6},{"s":"Whiting, North Sea","y":1966,"v":0.07},{"s":"Whiting, North Sea","y":1967,"v":1.17},{"s":"Whiting, North Sea","y":1968,"v":-1.17},{"s":"Whiting, North Sea","y":1969,"v":-0.53},
{"s":"Whiting, North Sea","y":1970,"v":-0.03},{"s":"Whiting, North Sea","y":1971,"v":0.63},{"s":"Whiting, North Sea","y":1972,"v":0.9},{"s":"Whiting, North Sea","y":1973,"v":0.17},{"s":"Whiting, North Sea","y":1974,"v":1.0},{"s":"Whiting, North Sea","y":1975,"v":0.47},{"s":"Whiting, North Sea","y":1976,"v":0.4},{"s":"Whiting, North Sea","y":1977,"v":0.47},{"s":"Whiting, North Sea","y":1978,"v":0.5},{"s":"Whiting, North Sea","y":1979,"v":0.47},
{"s":"Whiting, North Sea","y":1980,"v":-0.6},{"s":"Whiting, North Sea","y":1981,"v":-0.5},{"s":"Whiting, North Sea","y":1982,"v":-0.6},{"s":"Whiting, North Sea","y":1983,"v":-0.1},{"s":"Whiting, North Sea","y":1984,"v":-0.5},{"s":"Whiting, North Sea","y":1985,"v":0.3},{"s":"Whiting, North Sea","y":1986,"v":0.13},{"s":"Whiting, North Sea","y":1987,"v":-0.27},{"s":"Whiting, North Sea","y":1988,"v":0.63},{"s":"Whiting, North Sea","y":1989,"v":0.23},{"s":"Whiting, North Sea","y":1990,"v":0.63},

{"s":"Herring, West of Scotland","y":1967,"v":0.83},{"s":"Herring, West of Scotland","y":1968,"v":0.73},{"s":"Herring, West of Scotland","y":1969,"v":1.83},{"s":"Herring, West of Scotland","y":1970,"v":0.07},{"s":"Herring, West of Scotland","y":1971,"v":-0.6},{"s":"Herring, West of Scotland","y":1972,"v":-0.33},{"s":"Herring, West of Scotland","y":1973,"v":0},{"s":"Herring, West of Scotland","y":1974,"v":-1.2},{"s":"Herring, West of Scotland","y":1975,"v":-1.1},{"s":"Herring, West of Scotland","y":1976,"v":-0.67},{"s":"Herring, West of Scotland","y":1977,"v":-0.2},{"s":"Herring, West of Scotland","y":1978,"v":-0.6},{"s":"Herring, West of Scotland","y":1979,"v":0.07},{"s":"Herring, West of Scotland","y":1980,"v":-0.67},{"s":"Herring, West of Scotland","y":1981,"v":0.83},{"s":"Herring, West of Scotland","y":1982,"v":-0.17},{"s":"Herring, West of Scotland","y":1983,"v":0.07},{"s":"Herring, West of Scotland","y":1984,"v":-0.17},{"s":"Herring, West of Scotland","y":1985,"v":1.0},{"s":"Herring, West of Scotland","y":1986,"v":-0.27},{"s":"Herring, West of Scotland","y":1987,"v":0.23},

{"s":"Herring, Gulf of Maine","y":1966,"v":0.93},{"s":"Herring, Gulf of Maine","y":1967,"v":-0.07},{"s":"Herring, Gulf of Maine","y":1968,"v":-0.43},{"s":"Herring, Gulf of Maine","y":1969,"v":-1.27},{"s":"Herring, Gulf of Maine","y":1970,"v":1.0},{"s":"Herring, Gulf of Maine","y":1971,"v":-0.43},{"s":"Herring, Gulf of Maine","y":1972,"v":-0.43},{"s":"Herring, Gulf of Maine","y":1973,"v":0.17},{"s":"Herring, Gulf of Maine","y":1974,"v":0},{"s":"Herring, Gulf of Maine","y":1975,"v":0.4},{"s":"Herring, Gulf of Maine","y":1976,"v":0.73},{"s":"Herring, Gulf of Maine","y":1977,"v":1.0},{"s":"Herring, Gulf of Maine","y":1978,"v":-0.77},{"s":"Herring, Gulf of Maine","y":1979,"v":0.77},{"s":"Herring, Gulf of Maine","y":1980,"v":-0.1},{"s":"Herring, Gulf of Maine","y":1981,"v":0},{"s":"Herring, Gulf of Maine","y":1982,"v":0},{"s":"Herring, Gulf of Maine","y":1983,"v":1.17},{"s":"Herring, Gulf of Maine","y":1984,"v":0.27},{"s":"Herring, Gulf of Maine","y":1985,"v":0.23},{"s":"Herring, Gulf of Maine","y":1986,"v":0.4},{"s":"Herring, Gulf of Maine","y":1987,"v":0.57},{"s":"Herring, Gulf of Maine","y":1988,"v":-3.17},{"s":"Herring, Gulf of Maine","y":1989,"v":0.5},

{"s":"Cod, NAFO 4X","y":1950,"v":-0.23},{"s":"Cod, NAFO 4X","y":1951,"v":-0.9},{"s":"Cod, NAFO 4X","y":1952,"v":-0.07},{"s":"Cod, NAFO 4X","y":1953,"v":-0.83},{"s":"Cod, NAFO 4X","y":1954,"v":-0.33},{"s":"Cod, NAFO 4X","y":1955,"v":-0.23},{"s":"Cod, NAFO 4X","y":1956,"v":-0.17},{"s":"Cod, NAFO 4X","y":1957,"v":-0.23},{"s":"Cod, NAFO 4X","y":1958,"v":0.17},{"s":"Cod, NAFO 4X","y":1959,"v":0.43},
{"s":"Cod, NAFO 4X","y":1960,"v":-0.07},{"s":"Cod, NAFO 4X","y":1961,"v":0.07},{"s":"Cod, NAFO 4X","y":1962,"v":0.57},{"s":"Cod, NAFO 4X","y":1963,"v":0.77},{"s":"Cod, NAFO 4X","y":1964,"v":0},{"s":"Cod, NAFO 4X","y":1965,"v":-0.23},{"s":"Cod, NAFO 4X","y":1966,"v":-0.23},{"s":"Cod, NAFO 4X","y":1967,"v":-0.4},{"s":"Cod, NAFO 4X","y":1968,"v":0},{"s":"Cod, NAFO 4X","y":1969,"v":0},
{"s":"Cod, NAFO 4X","y":1970,"v":-0.27},{"s":"Cod, NAFO 4X","y":1971,"v":0.07},{"s":"Cod, NAFO 4X","y":1972,"v":0.23},{"s":"Cod, NAFO 4X","y":1973,"v":0},{"s":"Cod, NAFO 4X","y":1974,"v":0.27},{"s":"Cod, NAFO 4X","y":1975,"v":0.27},{"s":"Cod, NAFO 4X","y":1976,"v":-0.1},{"s":"Cod, NAFO 4X","y":1977,"v":0.57},{"s":"Cod, NAFO 4X","y":1978,"v":0.5},{"s":"Cod, NAFO 4X","y":1979,"v":0.17},
{"s":"Cod, NAFO 4X","y":1980,"v":0.4},{"s":"Cod, NAFO 4X","y":1981,"v":-0.4},{"s":"Cod, NAFO 4X","y":1982,"v":-0.4},{"s":"Cod, NAFO 4X","y":1983,"v":0},{"s":"Cod, NAFO 4X","y":1984,"v":-0.77},{"s":"Cod, NAFO 4X","y":1985,"v":0.57},{"s":"Cod, NAFO 4X","y":1986,"v":0.17},{"s":"Cod, NAFO 4X","y":1987,"v":0.67},{"s":"Cod, NAFO 4X","y":1988,"v":-0.67}
]
},
"encoding": {
  "y": {"field": "s", "type": "nominal",
    "scale": {"domain": ["Haddock, NAFO 4TVW","Haddock, NE Arctic","Cod, NE Arctic","Sole, North Sea","Plaice, North Sea","Haddock, NAFO 5Z","Haddock, NAFO 4X","Cod, NAFO 2J3KL","Cod, NAFO 3NO","Cod, NAFO 5Z","Cod, NAFO 3Pn4RS","Haddock, Iceland","Cod, West Greenland","Haddock, Faroe Plateau","Cod, NAFO 3Ps","Cod, NAFO 4TVn","Cod, NAFO 4VsW","Cod, Iceland","Cod, Faroe Plateau","Haddock, North Sea","Whiting, North Sea","Herring, West of Scotland","Herring, Gulf of Maine","Cod, NAFO 4X"], "paddingInner": 0, "paddingOuter": 0.97, "align": 0.519},
    "axis": {"title": null, "ticks": false, "domain": false, "grid": false, "labelFont": "DejaVu Serif", "labelFontSize": 19.5, "labelColor": "#111", "labelPadding": 26, "labelLimit": 320}
  }
},
"layer": [
  {
    "data": {"name": "names"},
    "mark": {"type": "rule", "strokeDash": [1.5, 4.5], "strokeWidth": 1.2, "color": "#333"},
    "encoding": {
      "x": {"datum": 1948.6, "type": "quantitative"},
      "x2": {"datum": 1992},
      "yOffset": {"datum": 0, "type": "quantitative"}
    }
  },
  {
    "data": {"values": [{"m": 1}]},
    "mark": {"type": "rule", "strokeDash": [2, 2.5], "strokeWidth": 1.4, "color": "#111"},
    "encoding": {"x": {"datum": 1971.45, "type": "quantitative"}, "y": null}
  },
  {
    "data": {"name": "series"},
    "mark": {"type": "line", "color": "#111", "strokeWidth": 2.5, "strokeJoin": "round", "point": {"filled": true, "size": 8, "color": "#111"}},
    "encoding": {
      "x": {"field": "y", "type": "quantitative",
        "scale": {"domain": [1950, 1992], "nice": false, "zero": false},
        "axis": {"title": "Year class", "tickCount": 100, "values": [1950,1951,1952,1953,1954,1955,1956,1957,1958,1959,1960,1961,1962,1963,1964,1965,1966,1967,1968,1969,1970,1971,1972,1973,1974,1975,1976,1977,1978,1979,1980,1981,1982,1983,1984,1985,1986,1987,1988,1989,1990,1991,1992],
          "labelExpr": "datum.value % 10 == 0 ? toString(datum.value) : ''", "labelFlush": false, "labelOverlap": false, "labelBound": false,
          "grid": false, "domainColor": "#111", "domainWidth": 1.6, "tickColor": "#111", "tickWidth": 1.4, "tickSize": 11,
          "labelFont": "DejaVu Serif", "labelFontSize": 18.5, "labelColor": "#111", "labelPadding": 17,
          "titleFont": "DejaVu Serif", "titleFontSize": 16.5, "titleFontWeight": "normal", "titleColor": "#111", "titlePadding": 40}
      },
      "yOffset": {"field": "v", "type": "quantitative", "scale": {"domain": [-2.4325, 2.4325], "range": [48.65, 0]}},
      "detail": {"field": "s"},
      "order": {"field": "y", "type": "quantitative"}
    }
  }
]
}
